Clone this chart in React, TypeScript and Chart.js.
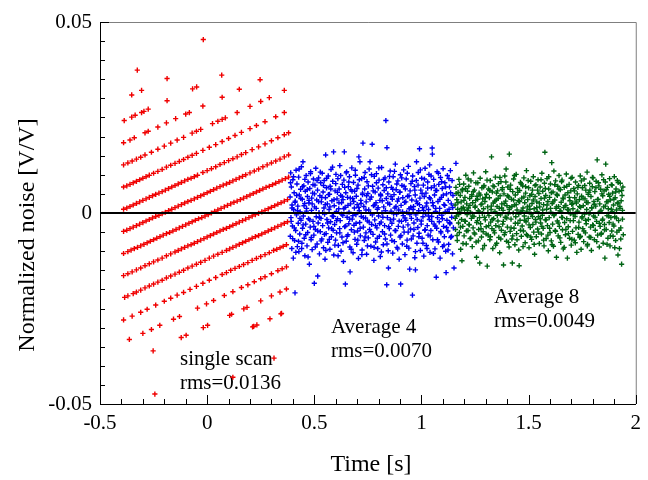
import { useEffect, useRef } from "react";
import { Chart, registerables } from "chart.js";

Chart.register(...registerables);

const xAxisTitle = "Time [s]";
const yAxisTitle = "Normalized noise [V/V]";
const xLabelValues = [-0.5, 0, 0.5, 1, 1.5, 2];
const yLabelValues = [-0.05, 0, 0.05];
const seriesNotes = [
  ["single scan", "rms=0.0136"],
  ["Average 4", "rms=0.0070"],
  ["Average 8", "rms=0.0049"],
];

const singleScan: [number, number][] = [
  [-0.39,0.001],[-0.375,0.0013],[-0.36,0.0017],[-0.345,0.0021],[-0.33,0.0025],[-0.315,0.0029],[-0.3,0.0033],[-0.285,0.0037],[-0.27,0.0041],[-0.255,0.0045],[-0.24,0.0049],[-0.225,0.0052],[-0.21,0.0056],[-0.195,0.006],[-0.18,0.0064],[-0.165,0.0068],[-0.15,0.0072],[-0.135,0.0076],[-0.12,0.008],[-0.105,0.0084],[-0.09,0.0088],[-0.075,0.0091],[-0.06,0.0095],[-0.045,0.0099],[-0.02,0.0106],[0,0.0111],[0.02,0.0116],[0.04,0.0121],[0.06,0.0127],[0.08,0.0132],[0.1,0.0137],[0.12,0.0142],[0.14,0.0147],[0.16,0.0153],[0.18,0.0158],[0.21,0.0166],[0.24,0.0173],[0.27,0.0181],[0.3,0.0189],[0.33,0.0197],[0.36,0.0205],[0.38,0.021],
  [-0.39,-0.0048],[-0.375,-0.0045],[-0.36,-0.0041],[-0.345,-0.0037],[-0.33,-0.0033],[-0.315,-0.0029],[-0.3,-0.0025],[-0.285,-0.0021],[-0.27,-0.0017],[-0.255,-0.0013],[-0.24,-0.0009],[-0.225,-0.0006],[-0.21,-0.0002],[-0.195,0.0002],[-0.18,0.0006],[-0.165,0.001],[-0.15,0.0014],[-0.135,0.0018],[-0.12,0.0022],[-0.105,0.0026],[-0.09,0.003],[-0.075,0.0033],[-0.06,0.0037],[-0.045,0.0041],[-0.03,0.0045],[-0.015,0.0049],[0,0.0053],[0.015,0.0057],[0.03,0.0061],[0.045,0.0065],[0.06,0.0069],[0.075,0.0073],[0.09,0.0076],[0.105,0.008],[0.12,0.0084],[0.135,0.0088],[0.15,0.0092],[0.165,0.0096],[0.18,0.01],[0.2,0.0105],[0.22,0.011],[0.24,0.0115],[0.26,0.0121],[0.28,0.0126],[0.3,0.0131],[0.32,0.0136],[0.34,0.0141],[0.36,0.0147],[0.38,0.0152],
  [-0.39,-0.0106],[-0.37,-0.0101],[-0.355,-0.0097],[-0.34,-0.0093],[-0.325,-0.009],[-0.31,-0.0086],[-0.295,-0.0082],[-0.28,-0.0078],[-0.265,-0.0074],[-0.25,-0.007],[-0.235,-0.0066],[-0.22,-0.0062],[-0.205,-0.0058],[-0.19,-0.0054],[-0.175,-0.0051],[-0.16,-0.0047],[-0.145,-0.0043],[-0.13,-0.0039],[-0.115,-0.0035],[-0.1,-0.0031],[-0.085,-0.0027],[-0.07,-0.0023],[-0.055,-0.0019],[-0.04,-0.0015],[-0.025,-0.0012],[-0.01,-0.0008],[0.005,-0.0004],[0.02,0],[0.035,0.0004],[0.05,0.0008],[0.065,0.0012],[0.08,0.0016],[0.095,0.002],[0.11,0.0024],[0.125,0.0028],[0.14,0.0031],[0.155,0.0035],[0.17,0.0039],[0.185,0.0043],[0.2,0.0047],[0.215,0.0051],[0.23,0.0055],[0.245,0.0059],[0.26,0.0063],[0.275,0.0067],[0.29,0.007],[0.305,0.0074],[0.32,0.0078],[0.335,0.0082],[0.35,0.0086],[0.365,0.009],[0.38,0.0094],
  [-0.39,-0.0164],[-0.37,-0.0159],[-0.35,-0.0154],[-0.33,-0.0149],[-0.31,-0.0144],[-0.29,-0.0138],[-0.27,-0.0133],[-0.25,-0.0128],[-0.23,-0.0123],[-0.21,-0.0118],[-0.19,-0.0112],[-0.17,-0.0107],[-0.15,-0.0102],[-0.135,-0.0098],[-0.12,-0.0094],[-0.105,-0.009],[-0.09,-0.0086],[-0.075,-0.0083],[-0.06,-0.0079],[-0.045,-0.0075],[-0.03,-0.0071],[-0.015,-0.0067],[0,-0.0063],[0.015,-0.0059],[0.03,-0.0055],[0.045,-0.0051],[0.06,-0.0047],[0.075,-0.0043],[0.09,-0.004],[0.105,-0.0036],[0.12,-0.0032],[0.135,-0.0028],[0.15,-0.0024],[0.165,-0.002],[0.18,-0.0016],[0.195,-0.0012],[0.21,-0.0008],[0.225,-0.0004],[0.24,-0.0001],[0.255,0.0003],[0.27,0.0007],[0.285,0.0011],[0.3,0.0015],[0.315,0.0019],[0.33,0.0023],[0.345,0.0027],[0.36,0.0031],[0.375,0.0035],
  [-0.39,0.0068],[-0.375,0.0071],[-0.36,0.0075],[-0.345,0.0079],[-0.33,0.0083],[-0.315,0.0087],[-0.3,0.0091],[-0.285,0.0095],[-0.27,0.0099],[-0.25,0.0104],[-0.23,0.0109],[-0.21,0.0114],[-0.19,0.012],[-0.17,0.0125],[-0.15,0.013],[-0.13,0.0135],[-0.11,0.014],[-0.09,0.0146],[-0.07,0.0151],[-0.05,0.0156],[-0.02,0.0164],[0.01,0.0172],[0.04,0.0179],[0.07,0.0187],[0.1,0.0195],[0.13,0.0203],[0.16,0.0211],[0.2,0.0221],[0.23,0.0229],[0.27,0.0239],[0.32,0.0252],[0.36,0.0263],
  [-0.385,-0.0221],[-0.37,-0.0217],[-0.345,-0.0211],[-0.33,-0.0207],[-0.31,-0.0202],[-0.29,-0.0196],[-0.27,-0.0191],[-0.25,-0.0186],[-0.23,-0.0181],[-0.21,-0.0176],[-0.19,-0.017],[-0.17,-0.0165],[-0.15,-0.016],[-0.13,-0.0155],[-0.11,-0.015],[-0.09,-0.0144],[-0.07,-0.0139],[-0.05,-0.0134],[-0.03,-0.0129],[-0.01,-0.0124],[0.01,-0.0118],[0.03,-0.0113],[0.05,-0.0108],[0.07,-0.0103],[0.09,-0.0098],[0.105,-0.0094],[0.12,-0.009],[0.135,-0.0086],[0.15,-0.0082],[0.165,-0.0078],[0.18,-0.0074],[0.195,-0.007],[0.21,-0.0066],[0.225,-0.0062],[0.24,-0.0059],[0.255,-0.0055],[0.27,-0.0051],[0.285,-0.0047],[0.3,-0.0043],[0.315,-0.0039],[0.33,-0.0035],[0.345,-0.0031],[0.36,-0.0027],[0.375,-0.0023],
  [-0.39,0.0126],[-0.37,0.0131],[-0.35,0.0136],[-0.33,0.0141],[-0.31,0.0146],[-0.29,0.0152],[-0.26,0.0159],[-0.23,0.0167],[-0.2,0.0175],[-0.17,0.0183],[-0.14,0.0191],[-0.11,0.0198],[-0.07,0.0209],[-0.05,0.0214],[-0.03,0.0219],[0.025,0.0234],[0.05,0.024],[0.07,0.0245],[0.085,0.0249],[0.14,0.0263],[0.2,0.0279],[0.25,0.0292],[0.29,0.0302],[0.36,0.0321],
  [-0.39,-0.028],[-0.35,-0.027],[-0.31,-0.026],[-0.28,-0.0252],[-0.24,-0.0241],[-0.2,-0.0231],[-0.17,-0.0223],[-0.14,-0.0215],[-0.11,-0.0208],[-0.08,-0.02],[-0.05,-0.0192],[-0.02,-0.0184],[0.01,-0.0176],[0.04,-0.0169],[0.07,-0.0161],[0.09,-0.0156],[0.11,-0.015],[0.13,-0.0145],[0.15,-0.014],[0.17,-0.0135],[0.19,-0.013],[0.21,-0.0124],[0.23,-0.0119],[0.25,-0.0114],[0.27,-0.0109],[0.29,-0.0104],[0.31,-0.0098],[0.325,-0.0095],[0.34,-0.0091],[0.355,-0.0087],[0.37,-0.0083],
  [-0.39,0.0184],[-0.36,0.0191],[-0.34,0.0197],[-0.29,0.021],[-0.275,0.0214],[-0.23,0.0225],[-0.19,0.0236],[-0.147,0.0247],[-0.1,0.0259],[-0.083,0.0263],[-0.02,0.028],[0.07,0.0303],[0.15,0.0324],[0.247,0.0349],
  [-0.387,0.0242],[-0.352,0.0251],[-0.336,0.0256],[-0.306,0.0263],[-0.295,0.0266],[-0.275,0.0272],[-0.187,0.0294],[-0.068,0.0325],[-0.049,0.033],[0.068,0.0361],
  [-0.352,0.0309],[-0.306,0.0321],[-0.187,0.0352],[-0.326,0.0374],[-0.018,0.0454],
  [-0.363,-0.0331],[-0.3,-0.0315],[-0.26,-0.0305],[-0.221,-0.0294],[-0.157,-0.0278],[-0.129,-0.0271],[-0.045,-0.0249],[-0.003,-0.0238],[0.03,-0.0229],[0.08,-0.0216],[0.12,-0.0206],[0.16,-0.0195],[0.19,-0.0188],[0.22,-0.018],[0.25,-0.0172],[0.27,-0.0167],[0.3,-0.0159],[0.33,-0.0151],[0.35,-0.0146],[0.37,-0.0141],
  [-0.252,-0.0361],[-0.121,-0.0326],[-0.098,-0.032],[-0.018,-0.03],[0.002,-0.0294],[0.105,-0.0268],[0.114,-0.0265],[0.171,-0.0251],[0.186,-0.0247],[0.25,-0.023],[0.3,-0.0217],[0.34,-0.0207],[0.37,-0.0199],
  [0.212,-0.0298],[0.217,-0.0297],[0.232,-0.0293],[0.293,-0.0277],[0.344,-0.0264],[0.347,-0.0263],
  [-0.244,-0.0474],[0.12,-0.043],[0.312,-0.038],
];

const average4: [number, number][] = [
  [0.387,0.0042],[0.388,-0.0061],[0.390,0.0105],[0.391,-0.0012],[0.393,0.0068],[0.395,-0.0093],[0.396,0.0021],[0.398,-0.0034],[0.400,0.0087],[0.402,-0.0118],
  [0.404,0.0009],[0.406,0.0053],[0.408,-0.0072],[0.410,-0.0209],[0.411,0.0031],[0.413,-0.0046],[0.415,0.0112],[0.417,-0.0005],[0.419,0.0076],[0.421,-0.0088],
  [0.423,0.0018],[0.425,-0.0027],[0.427,0.0094],[0.428,-0.0101],[0.430,0.0047],[0.432,-0.0055],[0.434,0.0003],[0.436,0.0062],[0.438,-0.0019],[0.440,0.0121],
  [0.442,-0.0079],[0.444,0.0036],[0.445,-0.0040],[0.447,0.0134],[0.449,-0.0008],[0.451,0.0071],[0.453,-0.0066],[0.455,0.0025],[0.456,-0.0112],[0.458,0.0057],
  [0.460,-0.0029],[0.462,0.0098],[0.464,0.0012],[0.466,-0.0086],[0.468,0.0043],[0.469,-0.0051],[0.471,0.0081],[0.473,-0.0015],[0.475,0.0026],[0.477,-0.0134],
  [0.479,0.0064],[0.481,-0.0037],[0.483,0.0108],[0.485,-0.0070],[0.487,0.0007],[0.488,0.0039],[0.490,-0.0096],[0.492,0.0052],[0.494,-0.0022],[0.496,0.0089],
  [0.498,-0.0058],[0.500,-0.0184],[0.501,0.0016],[0.503,0.0073],[0.505,-0.0043],[0.507,0.0117],[0.509,-0.0010],[0.511,0.0034],[0.513,-0.0081],[0.515,0.0060],
  [0.516,-0.0165],[0.518,-0.0026],[0.520,0.0092],[0.522,0.0001],[0.524,-0.0107],[0.526,0.0045],[0.528,-0.0049],[0.530,0.0079],[0.531,-0.0014],[0.533,0.0029],
  [0.535,-0.0068],[0.537,0.0104],[0.539,-0.0033],[0.541,0.0055],[0.543,-0.0091],[0.545,0.0013],[0.546,0.0085],[0.548,-0.0003],[0.550,-0.0121],[0.552,0.0040],
  [0.553,0.0152],[0.555,-0.0054],[0.557,0.0066],[0.559,-0.0017],[0.561,0.0024],[0.563,-0.0077],[0.565,0.0097],[0.567,-0.0039],[0.569,0.0009],[0.571,0.0049],
  [0.573,-0.0095],[0.574,0.0070],[0.576,-0.0023],[0.578,0.0114],[0.580,-0.0062],[0.582,0.0032],[0.584,-0.0008],[0.586,0.0083],[0.588,-0.0045],[0.590,0.0160],
  [0.591,-0.0110],[0.593,0.0019],[0.595,-0.0030],[0.597,0.0058],[0.599,-0.0071],[0.601,0.0101],[0.603,0.0004],[0.604,-0.0052],[0.606,0.0037],[0.608,-0.0015],
  [0.610,0.0090],[0.612,-0.0085],[0.614,0.0011],[0.616,0.0063],[0.618,-0.0041],[0.619,0.0124],[0.621,-0.0020],[0.623,0.0046],[0.625,-0.0100],[0.627,0.0027],
  [0.629,-0.0063],[0.631,0.0075],[0.633,-0.0006],[0.634,0.0035],[0.636,-0.0127],[0.638,0.0086],[0.640,0.0160],[0.642,-0.0036],[0.644,0.0015],[0.645,-0.0186],
  [0.647,0.0053],[0.649,-0.0074],[0.651,0.0108],[0.653,-0.0011],[0.655,0.0041],[0.657,-0.0057],[0.659,0.0069],[0.661,-0.0028],[0.662,0.0002],[0.664,0.0095],
  [0.666,-0.0089],[0.667,-0.0154],[0.669,0.0024],[0.671,0.0061],[0.673,-0.0044],[0.675,0.0118],[0.677,-0.0016],[0.679,0.0038],[0.681,-0.0104],[0.683,0.0080],
  [0.685,-0.0032],[0.687,0.0013],[0.688,0.0057],[0.690,-0.0069],[0.692,0.0099],[0.694,-0.0004],[0.696,0.0044],[0.698,-0.0082],[0.700,0.0022],[0.702,-0.0047],
  [0.704,0.0073],[0.706,-0.0119],[0.708,0.0147],[0.710,0.0006],[0.712,-0.0025],[0.713,0.0134],[0.715,-0.0060],[0.717,0.0033],[0.719,-0.0009],[0.721,0.0090],
  [0.723,-0.0097],[0.725,0.0048],[0.727,0.0183],[0.729,-0.0037],[0.731,0.0017],[0.733,-0.0072],[0.735,0.0063],[0.737,0.0106],[0.739,-0.0013],[0.741,-0.0052],
  [0.742,0.0029],[0.744,-0.0108],[0.746,0.0082],[0.748,-0.0021],[0.750,0.0051],[0.752,-0.0065],[0.754,0.0008],[0.756,0.0115],[0.758,-0.0043],[0.760,0.0134],
  [0.762,-0.0001],[0.764,-0.0087],[0.766,0.0042],[0.768,-0.0030],[0.770,0.0180],[0.772,0.0070],[0.774,-0.0056],[0.776,0.0019],[0.778,-0.0124],[0.780,0.0096],
  [0.782,-0.0018],[0.784,0.0055],[0.786,-0.0076],[0.788,0.0027],[0.790,0.0103],[0.792,-0.0039],[0.794,0.0010],[0.796,-0.0093],[0.798,0.0065],[0.800,-0.0008],
  [0.802,0.0086],[0.804,-0.0061],[0.806,0.0033],[0.808,-0.0114],[0.810,0.0045],[0.812,-0.0024],[0.814,0.0119],[0.816,0.0001],[0.818,-0.0049],[0.820,0.0074],
  [0.822,-0.0083],[0.824,0.0016],[0.826,0.0059],[0.828,-0.0033],[0.830,0.0092],[0.832,-0.0068],[0.834,0.0242],[0.836,0.0038],[0.838,-0.0188],[0.839,0.0171],
  [0.841,-0.0012],[0.843,0.0050],[0.845,-0.0099],[0.846,-0.0144],[0.848,0.0081],[0.850,-0.0041],[0.852,0.0023],[0.854,0.0110],[0.856,-0.0058],[0.858,0.0005],
  [0.860,0.0067],[0.862,-0.0027],[0.864,0.0036],[0.866,-0.0105],[0.868,0.0095],[0.870,-0.0016],[0.872,0.0048],[0.874,-0.0075],[0.876,0.0013],[0.878,0.0128],
  [0.880,-0.0046],[0.882,0.0061],[0.884,-0.0003],[0.886,-0.0090],[0.888,0.0031],[0.890,0.0084],[0.892,-0.0035],[0.894,0.0008],[0.896,-0.0121],[0.898,0.0054],
  [0.900,-0.0063],[0.902,0.0100],[0.903,-0.0186],[0.905,0.0020],[0.907,-0.0022],[0.909,0.0072],[0.911,-0.0081],[0.913,0.0040],[0.915,-0.0007],[0.917,0.0113],
  [0.919,-0.0050],[0.921,0.0028],[0.923,-0.0109],[0.925,0.0063],[0.927,-0.0019],[0.929,0.0089],[0.931,0.0002],[0.933,-0.0071],[0.935,0.0044],[0.937,-0.0031],
  [0.939,0.0122],[0.941,-0.0092],[0.943,0.0011],[0.945,-0.0147],[0.947,0.0058],[0.949,-0.0042],[0.951,0.0077],[0.953,-0.0014],[0.955,0.0034],[0.958,-0.0215],
  [0.959,0.0097],[0.961,-0.0060],[0.963,0.0017],[0.965,-0.0026],[0.967,0.0069],[0.969,-0.0117],[0.971,0.0047],[0.972,-0.0149],[0.974,-0.0005],[0.976,0.0085],
  [0.977,0.0134],[0.979,-0.0079],[0.981,0.0025],[0.983,-0.0038],[0.985,0.0106],[0.987,0.0006],[0.989,-0.0053],[0.991,0.0168],[0.993,0.0039],[0.995,-0.0098],
  [0.997,0.0060],[0.999,-0.0021],[1.001,0.0091],[1.003,-0.0066],[1.005,0.0014],[1.007,-0.0010],[1.009,0.0073],[1.011,-0.0113],[1.013,0.0043],[1.015,-0.0045],
  [1.017,0.0117],[1.019,-0.0002],[1.021,0.0052],[1.023,-0.0085],[1.025,0.0026],[1.027,-0.0033],[1.029,0.0081],[1.031,-0.0058],[1.033,0.0009],[1.035,0.0101],
  [1.037,-0.0017],[1.038,0.0126],[1.040,-0.0103],[1.042,0.0037],[1.044,-0.0046],[1.046,0.0066],[1.048,-0.0009],[1.050,0.0170],[1.051,0.0154],[1.053,-0.0070],
  [1.055,0.0019],[1.057,0.0088],[1.059,-0.0029],[1.061,0.0047],[1.063,-0.0094],[1.065,0.0004],[1.067,0.0059],[1.069,-0.0168],[1.071,-0.0040],[1.073,0.0108],
  [1.075,-0.0012],[1.077,0.0030],[1.079,-0.0076],[1.081,0.0075],[1.083,-0.0023],[1.085,0.0012],[1.087,-0.0118],[1.089,0.0093],[1.091,-0.0052],[1.093,0.0041],
  [1.095,-0.0006],[1.097,0.0064],[1.099,-0.0088],[1.101,0.0116],[1.103,-0.0035],[1.105,0.0022],[1.107,-0.0062],[1.109,0.0079],[1.111,0.0003],[1.113,-0.0100],
  [1.115,-0.0156],[1.117,0.0050],[1.119,-0.0019],[1.121,0.0098],[1.123,-0.0047],[1.125,0.0033],[1.127,-0.0082],[1.129,0.0010],[1.131,0.0068],[1.133,-0.0028],
  [1.135,0.0111],[1.137,-0.0064],[1.139,0.0024],[1.141,-0.0011],[1.143,0.0085],[1.145,-0.0107],[1.147,0.0046],[1.149,-0.0039],[1.152,-0.0144],[1.161,0.0130],
  [0.389,0.0079],[0.392,-0.0022],[0.396,0.0013],[0.399,-0.0067],[0.403,0.0095],[0.407,-0.0039],[0.410,0.0028],[0.414,-0.0103],[0.418,0.0046],[0.422,0.0006],
  [0.426,-0.0074],[0.429,0.0115],[0.433,-0.0014],[0.437,0.0038],[0.441,-0.0093],[0.445,0.0069],[0.448,-0.0031],[0.452,0.0019],[0.456,0.0088],[0.460,-0.0057],
  [0.463,0.0005],[0.467,0.0061],[0.471,-0.0115],[0.475,0.0033],[0.479,-0.0018],[0.482,0.0103],[0.486,-0.0064],[0.490,0.0024],[0.494,0.0074],[0.498,-0.0035],
  [0.501,0.0050],[0.505,-0.0089],[0.509,0.0012],[0.513,0.0085],[0.516,-0.0047],[0.520,0.0030],[0.524,-0.0012],[0.528,0.0107],[0.532,-0.0073],[0.535,0.0041],
  [0.539,0.0001],[0.543,0.0072],[0.547,-0.0056],[0.551,0.0022],[0.554,-0.0098],[0.558,0.0091],[0.562,-0.0026],[0.566,0.0048],[0.570,-0.0069],[0.573,0.0016],
  [0.577,0.0063],[0.581,-0.0041],[0.585,0.0120],[0.589,-0.0009],[0.592,0.0035],[0.596,-0.0084],[0.600,0.0077],[0.604,-0.0020],[0.608,0.0054],[0.611,-0.0112],
  [0.615,0.0027],[0.619,-0.0052],[0.623,0.0098],[0.627,-0.0003],[0.630,0.0043],[0.634,-0.0078],[0.638,0.0011],[0.642,0.0067],[0.646,-0.0034],[0.649,0.0105],
  [0.653,-0.0061],[0.657,0.0020],[0.661,0.0081],[0.665,-0.0016],[0.668,0.0039],[0.672,-0.0095],[0.676,0.0057],[0.680,-0.0007],[0.684,0.0030],[0.687,-0.0050],
  [0.691,0.0112],[0.695,-0.0027],[0.699,0.0064],[0.703,-0.0071],[0.706,0.0015],[0.710,0.0087],[0.714,-0.0040],[0.718,0.0025],[0.722,-0.0109],[0.725,0.0052],
  [0.729,-0.0012],[0.733,0.0093],[0.737,-0.0063],[0.741,0.0008],[0.744,0.0045],[0.748,-0.0086],[0.752,0.0071],[0.756,-0.0024],[0.760,0.0036],[0.763,-0.0049],
  [0.767,0.0100],[0.771,-0.0005],[0.775,0.0058],[0.779,-0.0090],[0.782,0.0021],[0.786,-0.0033],[0.790,0.0079],[0.794,-0.0066],[0.798,0.0014],[0.801,0.0118],
  [0.805,-0.0028],[0.809,0.0049],[0.813,-0.0102],[0.817,0.0032],[0.820,-0.0011],[0.824,0.0088],[0.828,-0.0055],[0.832,0.0006],[0.836,0.0066],[0.839,-0.0081],
  [0.843,0.0026],[0.847,-0.0036],[0.851,0.0096],[0.855,-0.0018],[0.858,0.0043],[0.862,-0.0072],[0.866,0.0062],[0.870,-0.0002],[0.874,0.0109],[0.877,-0.0046],
  [0.881,0.0017],[0.885,0.0076],[0.889,-0.0094],[0.893,0.0037],[0.896,-0.0021],[0.900,0.0055],[0.904,-0.0059],[0.908,0.0092],[0.912,0.0003],[0.915,-0.0037],
  [0.919,0.0070],[0.923,-0.0013],[0.927,0.0029],[0.931,-0.0087],[0.934,0.0104],[0.938,-0.0050],[0.942,0.0045],[0.946,-0.0004],[0.950,0.0015],[0.953,-0.0068],
  [0.957,0.0083],[0.961,0.0009],[0.965,-0.0043],[0.969,0.0060],[0.972,-0.0101],[0.976,0.0031],[0.980,-0.0017],[0.984,0.0073],[0.988,-0.0062],[0.991,0.0022],
  [0.995,0.0113],[0.999,-0.0029],[1.003,0.0051],[1.007,-0.0079],[1.010,0.0007],[1.014,0.0089],[1.018,-0.0044],[1.022,0.0018],[1.026,-0.0093],[1.029,0.0065],
  [1.033,-0.0008],[1.037,0.0040],[1.041,-0.0060],[1.045,0.0097],[1.048,-0.0022],[1.052,0.0027],[1.056,-0.0106],[1.060,0.0071],[1.064,-0.0034],[1.067,0.0012],
  [1.071,0.0059],[1.075,-0.0070],[1.079,0.0104],[1.083,-0.0001],[1.086,0.0036],[1.090,-0.0048],[1.094,0.0082],[1.098,-0.0015],[1.102,0.0047],[1.105,-0.0084],
  [1.109,0.0020],[1.113,0.0068],[1.117,-0.0038],[1.121,0.0004],[1.124,-0.0097],[1.128,0.0090],[1.132,-0.0025],[1.136,0.0053],[1.140,-0.0061],[1.146,0.0014],
];

const average8: [number, number][] = [
  [1.157,0.0021],[1.159,-0.0043],[1.161,0.0067],[1.163,-0.0008],[1.165,0.0035],[1.167,-0.0072],[1.169,0.0010],[1.171,0.0054],[1.173,-0.0026],[1.175,0.0088],
  [1.177,-0.0051],[1.179,0.0003],[1.181,0.0046],[1.183,-0.0095],[1.185,0.0029],[1.187,-0.0017],[1.189,-0.0125],[1.191,0.0062],[1.193,-0.0035],[1.195,0.0015],
  [1.197,0.0076],[1.199,-0.0060],[1.201,0.0008],[1.203,0.0041],[1.205,-0.0022],[1.207,0.0099],[1.209,-0.0081],[1.211,0.0024],[1.213,-0.0004],[1.215,0.0057],
  [1.217,-0.0046],[1.219,0.0013],[1.221,0.0070],[1.223,-0.0031],[1.225,0.0038],[1.227,-0.0067],[1.229,0.0002],[1.231,0.0084],[1.233,-0.0014],[1.235,0.0048],
  [1.237,-0.0088],[1.239,0.0027],[1.241,-0.0039],[1.243,0.0105],[1.245,-0.0009],[1.247,0.0060],[1.249,-0.0055],[1.251,0.0018],[1.253,0.0033],[1.255,-0.0076],
  [1.257,-0.0116],[1.259,0.0044],[1.261,-0.0020],[1.263,0.0079],[1.265,0.0006],[1.267,-0.0043],[1.269,0.0052],[1.271,-0.0012],[1.272,-0.0131],[1.274,0.0091],
  [1.276,-0.0028],[1.278,0.0022],[1.280,-0.0063],[1.282,0.0066],[1.284,-0.0001],[1.286,0.0037],[1.288,-0.0049],[1.290,0.0011],[1.292,0.0072],[1.294,-0.0085],
  [1.296,0.0030],[1.298,-0.0018],[1.300,0.0108],[1.302,-0.0036],[1.304,0.0049],[1.307,-0.0139],[1.309,0.0016],[1.311,-0.0058],[1.313,0.0063],[1.315,-0.0007],
  [1.317,0.0040],[1.319,-0.0070],[1.321,0.0085],[1.323,-0.0024],[1.325,0.0009],[1.327,0.0147],[1.329,-0.0041],[1.331,0.0055],[1.333,-0.0093],[1.335,0.0026],
  [1.337,-0.0015],[1.339,0.0069],[1.341,-0.0052],[1.343,0.0004],[1.345,0.0094],[1.347,-0.0033],[1.349,0.0034],[1.351,-0.0079],[1.353,0.0017],[1.355,0.0058],
  [1.357,-0.0021],[1.359,0.0077],[1.361,-0.0064],[1.363,0.0012],[1.365,-0.0104],[1.367,0.0045],[1.369,-0.0005],[1.371,0.0082],[1.373,-0.0045],[1.375,0.0024],
  [1.377,0.0061],[1.379,-0.0029],[1.381,0.0007],[1.383,-0.0136],[1.385,0.0050],[1.387,-0.0057],[1.389,0.0097],[1.391,-0.0011],[1.393,0.0031],[1.395,0.0115],
  [1.397,-0.0074],[1.399,0.0019],[1.401,-0.0037],[1.403,0.0068],[1.405,-0.0002],[1.407,0.0042],[1.409,-0.0089],[1.410,0.0154],[1.412,0.0014],[1.414,-0.0048],
  [1.416,0.0073],[1.418,-0.0016],[1.420,0.0036],[1.422,-0.0068],[1.424,-0.0131],[1.426,0.0056],[1.428,0.0000],[1.430,0.0089],[1.432,-0.0040],[1.434,0.0021],
  [1.436,-0.0083],[1.438,0.0047],[1.440,-0.0010],[1.442,0.0101],[1.444,-0.0054],[1.446,0.0008],[1.448,0.0064],[1.450,-0.0027],[1.452,0.0032],[1.454,-0.0097],
  [1.456,-0.0138],[1.458,0.0059],[1.460,-0.0019],[1.462,0.0080],[1.464,0.0003],[1.466,-0.0061],[1.468,0.0039],[1.470,-0.0034],[1.472,0.0071],[1.474,0.0013],
  [1.476,-0.0047],[1.478,0.0092],[1.480,-0.0008],[1.482,0.0027],[1.484,-0.0078],[1.486,0.0052],[1.488,-0.0023],[1.490,0.0111],[1.492,0.0005],[1.494,-0.0059],
  [1.496,0.0035],[1.498,-0.0014],[1.500,0.0066],[1.502,-0.0091],[1.504,0.0018],[1.506,0.0045],[1.508,-0.0038],[1.510,0.0083],[1.512,-0.0003],[1.514,-0.0069],
  [1.516,0.0025],[1.518,0.0060],[1.520,-0.0030],[1.522,0.0095],[1.524,-0.0050],[1.526,0.0011],[1.528,-0.0108],[1.530,0.0043],[1.532,-0.0017],[1.534,0.0074],
  [1.536,-0.0062],[1.538,0.0029],[1.540,0.0004],[1.542,-0.0042],[1.544,0.0087],[1.546,-0.0010],[1.548,0.0051],[1.550,-0.0080],[1.552,0.0016],[1.554,0.0068],
  [1.556,-0.0026],[1.558,0.0038],[1.560,-0.0055],[1.562,0.0104],[1.564,-0.0006],[1.566,0.0057],[1.568,-0.0040],[1.570,0.0022],[1.572,-0.0086],[1.574,0.0078],
  [1.576,0.0159],[1.578,-0.0018],[1.580,0.0046],[1.582,-0.0067],[1.584,0.0010],[1.586,0.0090],[1.588,-0.0033],[1.590,0.0030],[1.592,-0.0099],[1.594,0.0063],
  [1.596,-0.0012],[1.598,0.0041],[1.600,-0.0051],[1.602,0.0076],[1.604,0.0002],[1.606,-0.0073],[1.608,0.0132],[1.610,0.0025],[1.612,-0.0029],[1.614,0.0055],
  [1.616,-0.0087],[1.618,0.0110],[1.620,-0.0004],[1.622,0.0034],[1.624,-0.0046],[1.626,0.0084],[1.628,0.0012],[1.630,-0.0116],[1.632,0.0049],[1.634,-0.0021],
  [1.636,0.0070],[1.638,-0.0060],[1.640,0.0017],[1.642,0.0098],[1.644,-0.0035],[1.646,0.0006],[1.648,0.0061],[1.650,-0.0077],[1.652,0.0028],[1.654,-0.0011],
  [1.656,0.0086],[1.658,-0.0044],[1.660,0.0039],[1.662,-0.0094],[1.664,0.0014],[1.666,0.0067],[1.668,-0.0025],[1.670,0.0047],[1.672,-0.0057],[1.674,0.0020],
  [1.676,0.0102],[1.678,-0.0015],[1.681,-0.0118],[1.683,0.0053],[1.685,-0.0036],[1.687,0.0008],[1.689,0.0075],[1.691,-0.0066],[1.693,0.0032],[1.695,-0.0002],
  [1.697,0.0058],[1.699,-0.0084],[1.701,0.0023],[1.703,0.0093],[1.705,-0.0048],[1.707,0.0011],[1.709,-0.0020],[1.711,0.0064],[1.713,-0.0071],[1.715,0.0040],
  [1.717,-0.0009],[1.719,0.0081],[1.721,-0.0039],[1.723,0.0026],[1.725,-0.0103],[1.727,0.0050],[1.729,0.0005],[1.731,-0.0056],[1.733,0.0072],[1.735,-0.0024],
  [1.737,0.0035],[1.739,-0.0064],[1.741,0.0097],[1.743,0.0015],[1.745,-0.0095],[1.747,0.0044],[1.749,-0.0013],[1.751,0.0066],[1.753,-0.0041],[1.755,0.0019],
  [1.757,-0.0075],[1.759,0.0089],[1.761,-0.0003],[1.763,0.0037],[1.765,-0.0052],[1.767,0.0060],[1.769,-0.0028],[1.771,0.0009],[1.773,0.0107],[1.775,-0.0082],
  [1.777,0.0027],[1.779,-0.0017],[1.781,0.0054],[1.783,-0.0063],[1.785,0.0078],[1.787,0.0001],[1.789,-0.0037],[1.791,0.0043],[1.793,-0.0098],[1.795,0.0013],
  [1.797,0.0069],[1.799,-0.0031],[1.801,0.0092],[1.803,-0.0008],[1.805,0.0030],[1.807,-0.0070],[1.809,0.0056],[1.811,-0.0045],[1.813,0.0018],[1.815,0.0083],
  [1.817,-0.0022],[1.820,0.0139],[1.822,-0.0058],[1.824,0.0036],[1.826,-0.0001],[1.828,0.0071],[1.830,-0.0089],[1.832,0.0024],[1.834,-0.0035],[1.836,0.0062],
  [1.838,0.0007],[1.840,-0.0053],[1.842,0.0100],[1.844,-0.0019],[1.846,0.0045],[1.848,-0.0079],[1.850,0.0016],[1.852,0.0058],[1.854,-0.0030],[1.856,-0.0118],
  [1.858,0.0081],[1.860,0.0128],[1.862,-0.0043],[1.864,0.0029],[1.866,-0.0007],[1.868,0.0067],[1.870,-0.0066],[1.872,0.0011],[1.874,0.0049],[1.876,-0.0025],
  [1.878,0.0090],[1.880,-0.0086],[1.882,0.0034],[1.884,-0.0012],[1.886,0.0074],[1.888,-0.0047],[1.890,0.0004],[1.892,0.0052],[1.894,-0.0061],[1.896,0.0021],
  [1.898,-0.0034],[1.900,0.0095],[1.902,-0.0010],[1.904,0.0040],[1.906,-0.0072],[1.908,0.0063],[1.910,0.0008],[1.912,-0.0050],[1.914,0.0085],[1.917,-0.0110],
  [1.918,0.0026],[1.920,-0.0020],[1.922,0.0057],[1.924,-0.0093],[1.926,0.0012],[1.928,0.0078],[1.930,-0.0039],[1.932,0.0032],[1.934,-0.0134],[1.936,0.0046],
  [1.938,-0.0016],[1.940,0.0068],[1.942,-0.0057],
  [1.158,-0.0014],[1.162,0.0051],[1.166,-0.0059],[1.170,0.0027],[1.174,-0.0004],[1.178,0.0075],[1.182,-0.0037],[1.186,0.0012],[1.190,0.0058],[1.194,-0.0080],
  [1.198,0.0033],[1.202,-0.0021],[1.206,0.0064],[1.210,-0.0047],[1.214,0.0007],[1.218,0.0089],[1.222,-0.0030],[1.226,0.0020],[1.230,-0.0066],[1.234,0.0044],
  [1.238,-0.0008],[1.242,0.0056],[1.246,-0.0052],[1.250,0.0015],[1.254,0.0079],[1.258,-0.0025],[1.262,0.0036],[1.266,-0.0073],[1.270,0.0003],[1.274,0.0047],
  [1.278,-0.0041],[1.282,0.0024],[1.286,-0.0094],[1.290,0.0068],[1.294,-0.0011],[1.298,0.0040],[1.302,-0.0055],[1.306,0.0086],[1.310,0.0001],[1.314,-0.0033],
  [1.318,0.0059],[1.322,-0.0062],[1.326,0.0018],[1.330,-0.0017],[1.334,0.0071],[1.338,-0.0046],[1.342,0.0031],[1.346,-0.0084],[1.350,0.0052],[1.354,-0.0006],
  [1.358,0.0038],[1.362,-0.0036],[1.366,0.0093],[1.370,-0.0068],[1.374,0.0013],[1.378,0.0066],[1.382,-0.0022],[1.386,0.0025],[1.390,-0.0051],[1.394,0.0081],
  [1.398,-0.0013],[1.402,0.0045],[1.406,-0.0077],[1.410,0.0009],[1.414,0.0062],[1.418,-0.0039],[1.422,0.0017],[1.426,-0.0060],[1.430,0.0034],[1.434,0.0098],
  [1.438,-0.0027],[1.442,0.0022],[1.446,-0.0070],[1.450,0.0054],[1.454,-0.0003],[1.458,0.0030],[1.462,-0.0045],[1.466,0.0076],[1.470,0.0006],[1.474,-0.0088],
  [1.478,0.0042],[1.482,-0.0019],[1.486,0.0069],[1.490,-0.0056],[1.494,0.0016],[1.498,0.0085],[1.502,-0.0031],[1.506,0.0010],[1.510,-0.0063],[1.514,0.0049],
  [1.518,-0.0009],[1.522,0.0034],[1.526,-0.0082],[1.530,0.0072],[1.534,-0.0024],[1.538,0.0014],[1.542,0.0060],[1.546,-0.0050],[1.550,0.0026],[1.554,-0.0015],
  [1.558,0.0087],[1.562,-0.0035],[1.566,0.0008],[1.570,-0.0071],[1.574,0.0039],[1.578,0.0064],[1.582,-0.0018],[1.586,0.0021],[1.590,-0.0058],[1.594,0.0095],
  [1.598,-0.0040],[1.602,0.0012],[1.606,0.0053],[1.610,-0.0083],[1.614,0.0029],[1.618,-0.0007],[1.622,0.0074],[1.626,-0.0048],[1.630,0.0016],[1.634,0.0046],
  [1.638,-0.0026],[1.642,0.0063],[1.646,-0.0065],[1.650,0.0005],[1.654,0.0082],[1.658,-0.0012],[1.662,0.0037],[1.666,-0.0090],[1.670,0.0019],[1.674,-0.0043],
  [1.678,0.0070],[1.682,0.0009],[1.686,-0.0054],[1.690,0.0041],[1.694,-0.0020],[1.698,0.0091],[1.702,-0.0069],[1.706,0.0025],[1.710,-0.0005],[1.714,0.0058],
  [1.718,-0.0078],[1.722,0.0031],[1.726,0.0003],[1.730,0.0067],[1.734,-0.0038],[1.738,0.0017],[1.742,-0.0061],[1.746,0.0084],[1.750,-0.0010],[1.754,0.0039],
  [1.758,-0.0047],[1.762,0.0072],[1.766,-0.0019],[1.770,0.0028],[1.774,-0.0086],[1.778,0.0049],[1.782,-0.0002],[1.786,0.0060],[1.790,-0.0064],[1.794,0.0014],
  [1.798,0.0093],[1.802,-0.0033],[1.806,0.0023],[1.810,-0.0011],[1.814,0.0066],[1.818,-0.0075],[1.822,0.0035],[1.826,0.0079],[1.830,-0.0027],[1.834,0.0004],
  [1.838,-0.0056],[1.842,0.0050],[1.846,-0.0016],[1.850,0.0087],[1.854,-0.0044],[1.858,0.0018],[1.862,0.0061],[1.866,-0.0082],[1.870,0.0030],[1.874,-0.0008],
  [1.878,0.0044],[1.882,-0.0060],[1.886,0.0010],[1.890,0.0073],[1.894,-0.0029],[1.898,0.0036],[1.902,-0.0091],[1.906,0.0055],[1.910,-0.0013],[1.914,0.0026],
  [1.918,0.0080],[1.922,-0.0045],[1.926,0.0017],[1.930,-0.0068],[1.934,0.0059],[1.938,0.0007],
];

const FONT = '"Liberation Serif", "Times New Roman", Times, serif';

const isMultiple = (v: number, step: number) =>
  Math.abs(v / step - Math.round(v / step)) < 1e-6;

const fmt = (v: number) => String(Math.round(v * 1000) / 1000);

const decorPlugin = {
  id: "decor",
  beforeDatasetsDraw(chart: any) {
    const { ctx } = chart;
    ctx.save();
    ctx.fillStyle = "#000";
    ctx.font = `21px ${FONT}`;
    ctx.textAlign = "left";
    ctx.textBaseline = "alphabetic";
    const anchors = [
      [180, 365],
      [331, 333],
      [494, 303],
    ];
    seriesNotes.forEach((lines, i) => {
      lines.forEach((t, j) => ctx.fillText(t, anchors[i][0], anchors[i][1] + j * 24));
    });
    ctx.restore();
  },
  afterDatasetsDraw(chart: any) {
    const { ctx, chartArea: ca, scales } = chart;
    const xs = scales.x;
    const ys = scales.y;
    ctx.save();
    const y0 = ys.getPixelForValue(0);
    ctx.strokeStyle = "#000";
    ctx.lineWidth = 2;
    ctx.beginPath();
    ctx.moveTo(ca.left, y0);
    ctx.lineTo(ca.right, y0);
    ctx.stroke();
    ctx.strokeStyle = "#7f7f7f";
    ctx.lineWidth = 1;
    ctx.beginPath();
    ctx.moveTo(ca.left, ca.top + 0.5);
    ctx.lineTo(ca.right + 0.5, ca.top + 0.5);
    ctx.lineTo(ca.right + 0.5, ca.bottom);
    ctx.stroke();
    ctx.strokeStyle = "#000";
    ctx.lineWidth = 1;
    ctx.beginPath();
    for (const t of xs.ticks) {
      const px = Math.round(xs.getPixelForValue(t.value)) + 0.5;
      const len = isMultiple(t.value, 0.5) ? 9 : 5;
      ctx.moveTo(px, ca.bottom);
      ctx.lineTo(px, ca.bottom - len);
    }
    for (const t of ys.ticks) {
      const py = Math.round(ys.getPixelForValue(t.value)) + 0.5;
      const len = isMultiple(t.value, 0.05) ? 9 : 5;
      ctx.moveTo(ca.left, py);
      ctx.lineTo(ca.left + len, py);
    }
    ctx.stroke();
    ctx.restore();
  },
  afterDraw(chart: any) {
    const { ctx } = chart;
    ctx.save();
    ctx.fillStyle = "#000";
    ctx.font = `24px ${FONT}`;
    ctx.textAlign = "center";
    ctx.textBaseline = "middle";
    ctx.fillText(xAxisTitle, 371, 465);
    ctx.translate(28, 235);
    ctx.rotate(-Math.PI / 2);
    ctx.fillText(yAxisTitle, 0, 0);
    ctx.restore();
  },
};

const toXY = (arr: [number, number][]) => arr.map(([x, y]) => ({ x, y }));

const makeSet = (data: [number, number][], color: string) => ({
  data: toXY(data),
  pointStyle: "cross",
  pointRadius: 2.6,
  pointHoverRadius: 2.6,
  pointBorderWidth: 1.4,
  borderWidth: 1.4,
  borderColor: color,
  backgroundColor: color,
  pointBorderColor: color,
  pointBackgroundColor: color,
  showLine: false,
});

export default function App() {
  const ref = useRef<HTMLCanvasElement | null>(null);

  useEffect(() => {
    document.body.style.margin = "0";
    const canvas = ref.current;
    if (!canvas) return;
    const tickFont = { family: FONT, size: 21 };
    const chart = new Chart(canvas, {
      type: "scatter",
      data: {
        datasets: [
          makeSet(singleScan, "#f00000"),
          makeSet(average4, "#0000f0"),
          makeSet(average8, "#006414"),
        ] as any,
      },
      options: {
        responsive: false,
        animation: false,
        events: [],
        devicePixelRatio: 1,
        layout: { padding: { top: 22, right: 5, left: 0, bottom: 0 } },
        plugins: { legend: { display: false }, tooltip: { enabled: false } },
        scales: {
          x: {
            type: "linear",
            min: -0.5,
            max: 2,
            ticks: {
              stepSize: 0.1,
              autoSkip: false,
              maxRotation: 0,
              minRotation: 0,
              padding: 7,
              color: "#000",
              font: tickFont,
              callback: (v: any) =>
                xLabelValues.some((l) => Math.abs(l - v) < 1e-6) ? fmt(v) : "",
            },
            grid: { display: false, drawTicks: false },
            border: { display: true, color: "#000", width: 1 },
            afterFit: (s: any) => {
              s.height = 76;
            },
          },
          y: {
            type: "linear",
            min: -0.05,
            max: 0.05,
            ticks: {
              stepSize: 0.005,
              autoSkip: false,
              padding: 8,
              color: "#000",
              font: tickFont,
              callback: (v: any) =>
                yLabelValues.some((l) => Math.abs(l - v) < 1e-7) ? fmt(v) : "",
            },
            grid: { display: false, drawTicks: false },
            border: { display: true, color: "#000", width: 1 },
            afterFit: (s: any) => {
              s.width = 100;
            },
          },
        },
      } as any,
      plugins: [decorPlugin as any],
    });
    return () => chart.destroy();
  }, []);

  return (
    <div style={{ width: 648, height: 480 }}>
      <canvas ref={ref} width={648} height={480} style={{ display: "block" }} />
    </div>
  );
}
